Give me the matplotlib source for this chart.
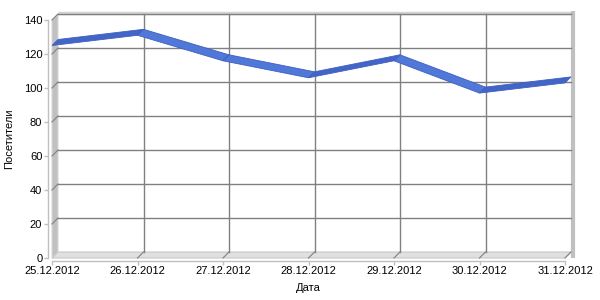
import numpy as np
import matplotlib.pyplot as plt
from matplotlib.patches import Polygon

plt.rcParams['font.family'] = ['Liberation Sans', 'DejaVu Sans']
plt.rcParams['font.size'] = 8

# данные
dates = ['25.12.2012', '26.12.2012', '27.12.2012', '28.12.2012',
         '29.12.2012', '30.12.2012', '31.12.2012']
visitors = [125, 131, 116, 106, 116, 97, 103]
yticks = [0, 20, 40, 60, 80, 100, 120, 140]

W, H = 600, 300
left_px, right_px = 52, 565      # передняя плоскость
bot_px, top_px = 258, 20
depth_px = 6                     # глубина "3D"

fig = plt.figure(figsize=(W/100, H/100), dpi=100)
ax = fig.add_axes([left_px/W, 1-bot_px/H, (right_px-left_px)/W, (bot_px-top_px)/H])
n = len(dates)
x = np.arange(n)
ax.set_xlim(0, n-1)
ax.set_ylim(0, 140)

# перевод пикселей в единицы данных
ux = (n-1)/(right_px-left_px)
uy = 140.0/(bot_px-top_px)
DX = depth_px*ux
DY = depth_px*uy

# стены
ax.add_patch(Polygon([(0, 0), (0, 140), (DX, 140+DY), (DX, DY)],
                     closed=True, fc='#c0c0c0', ec='#d8d8d8', lw=0.8, clip_on=False, zorder=1))
ax.add_patch(Polygon([(0, 0), (n-1, 0), (n-1+DX, DY), (DX, DY)],
                     closed=True, fc='#e0e0e0', ec='#c8c8c8', lw=0.8, clip_on=False, zorder=1))
# верхняя и правая кромка задней стены
ax.plot([DX, n-1+DX], [140+DY+0.8, 140+DY+0.8], color='#d4d4d4', lw=2.5,
        clip_on=False, zorder=1, solid_capstyle='butt')
ax.plot([n-1+DX+2*ux, n-1+DX+2*ux], [0, 140+DY+1.5], color='#c0c0c0', lw=3,
        clip_on=False, zorder=1, solid_capstyle='butt')

# сетка на задней стене
for v in yticks[1:]:
    ax.plot([DX, n-1+DX], [v+DY, v+DY], color='#808080', lw=1, clip_on=False, zorder=2)
    ax.plot([0, DX], [v, v+DY], color='#808080', lw=0.8, clip_on=False, zorder=2)
for i in x[1:-1]:
    ax.plot([i+DX, i+DX], [DY, 140+DY], color='#808080', lw=1, clip_on=False, zorder=2)
for i in x[1:]:
    ax.plot([i, i+DX], [0, DY], color='#808080', lw=0.8, clip_on=False, zorder=2)

# лента
y = np.array(visitors, dtype=float)
for i in range(n-1):
    c = '#4365c8' if y[i+1] > y[i] else '#4f78d8'
    ax.add_patch(Polygon([(x[i], y[i]), (x[i+1], y[i+1]),
                          (x[i+1]+DX, y[i+1]+DY), (x[i]+DX, y[i]+DY)],
                         closed=True, fc=c, ec='#3f5fbf', lw=0.6, clip_on=False, zorder=3))

# оси
for s in ['top', 'right']:
    ax.spines[s].set_visible(False)
ax.spines['left'].set_position(('outward', 3))
ax.spines['bottom'].set_position(('outward', 2))
for s in ['left', 'bottom']:
    ax.spines[s].set_color('#c0c0c0')
    ax.spines[s].set_linewidth(1)
ax.patch.set_visible(False)
ax.set_yticks(yticks)
ax.set_xticks(x)
ax.set_xticklabels(dates)
ax.tick_params(axis='both', length=3, width=1, color='#c0c0c0', pad=1, labelsize=8)
ax.set_ylabel('Посетители', labelpad=7)
ax.set_xlabel('Дата', labelpad=5)

fig.savefig('out.png', dpi=100)
